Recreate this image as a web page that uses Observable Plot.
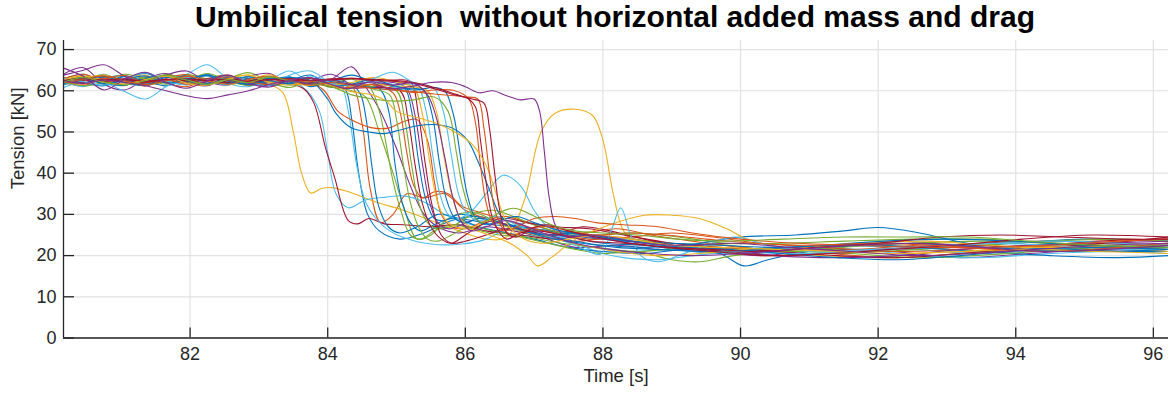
<!DOCTYPE html>
<html>
<head>
<meta charset="utf-8">
<script src="https://cdn.jsdelivr.net/npm/d3@7"></script>
<script src="https://cdn.jsdelivr.net/npm/@observablehq/plot@0.6"></script>
<style>
  html, body { margin: 0; padding: 0; background: #fff; }
  #title { width: 1110px; padding-left: 60px; height: 40px; line-height: 40px; text-align: center;
           font: bold 30px "Liberation Sans", Arial, Helvetica, sans-serif; color: #000; white-space: pre; }
</style>
</head>
<body>
<div id="title">Umbilical tension  without horizontal added mass and drag</div>
<div id="chart"></div>
<script>
// ---- axis / tick data ----
const xDomain = [80.16, 96.22];
const yDomain = [0, 72.2];
const xTicks = [82, 84, 86, 88, 90, 92, 94, 96];
const yTicks = [0, 10, 20, 30, 40, 50, 60, 70];
const xLabel = "Time [s]";
const yLabel = "Tension [kN]";

// MATLAB default colour order
const C = {blue: "#0072BD", orange: "#D95319", yellow: "#EDB120", purple: "#7E2F8E",
           green: "#77AC30", cyan: "#4DBEEE", red: "#A2142F"};

// shared knot times for the pre-drop oscillations
const preT = [80.16,80.45,80.75,81.05,81.35,81.65,81.95,82.25,82.55,82.85,83.15,83.45,83.75,84.05,84.35,84.65,84.95,85.25,85.55,85.85];

// ---- series: pre-drop values on preT, then [time, tension] pairs ----
const s01 = {color: C.blue, pre: [62.8,64.0,62.0,63.6,61.6,63.8,62.2,64.0,61.8,63.4,61.4,63.0,61.0,62.2],
  tail: [[84.25,60.5],[84.35,53],[84.45,40],[84.58,30],[84.75,26],[85.05,24],[85.4,25.5],[85.8,28.5],[86.2,29.5],[86.6,27.5],[87,25.5],[87.5,24.5],[88,23],[88.6,22.5],[89.3,21],[90,20.5],[91,21.5],[92,22.5],[93,21.5],[94,21],[95,22],[96.22,22.5]]};
const s02 = {color: C.orange, pre: [62.0,61.2,63.2,61.3,63.4,61.9,61.0,62.9,63.8,61.6,63.2,61.5,63.0,61.2],
  tail: [[84.35,61],[84.5,52],[84.62,36],[84.77,28],[84.95,30],[85.15,35],[85.4,34],[85.7,35],[86.0,31],[86.3,29],[86.7,27],[87.1,25],[87.6,23.5],[88.2,24.5],[88.8,23],[89.5,21.5],[90.3,20],[91.2,20.5],[92.2,19.5],[93.2,20.5],[94.2,21.5],[95.2,22],[96.22,21.5]]};
const s03 = {color: C.yellow, pre: [62.5,63.6,61.5,62.9,63.8,61.8,63.2,61.3,63.4,62.2,61.5],
  tail: [[83.35,59.5],[83.5,50],[83.62,40],[83.75,35.2],[83.9,36.2],[84.05,36.5],[84.3,35.5],[84.7,33],[85.1,31],[85.5,28.5],[85.9,26],[86.3,24],[86.6,24.5],[86.85,33],[87.1,50],[87.3,54.5],[87.6,55.5],[87.85,54],[88.0,48],[88.15,35],[88.3,26],[88.5,23],[88.9,22.5],[89.5,22],[90.2,21],[91.2,20],[92.2,19.5],[93.2,20.5],[94.2,22],[95.2,22.5],[96.22,21.5]]};
const s04 = {color: C.purple, pre: [64.0,65.6,61.5,60.2,62.8,64.2,62.0,61.2,63.4,62.0,61.2,63.2,62.0,62.8,65.8],
  tail: [[84.55,61],[84.75,55.5],[85.0,46],[85.2,37],[85.4,30],[85.6,27],[85.9,25.5],[86.3,27],[86.7,26],[87.1,24.5],[87.6,22],[88.2,22.5],[88.8,21.5],[89.5,21],[90.3,20],[91.2,21.5],[92.2,21],[93.2,19.5],[94.2,20.5],[95.2,21.5],[96.22,21]]};
const s05 = {color: C.green, pre: [61.5,62.6,63.8,62.3,61.4,64.0,62.6,61.6,62.9,64.4,62.3,61.5,63.1,61.0,60.0],
  tail: [[84.55,58.5],[84.75,50],[84.95,40],[85.1,32],[85.3,24],[85.5,25],[85.75,29],[86.1,30.5],[86.5,28],[86.9,26.5],[87.3,26],[87.8,25],[88.4,24],[89,23],[89.8,22.5],[90.6,21],[91.5,22],[92.5,23],[93.5,23.5],[94.5,23],[95.5,22.5],[96.22,23]]};
const s06 = {color: C.cyan, pre: [60.8,62.5,64.0,61.8,61.4,63.4,62.0,63.8,61.8,61.0,63.2,62.5],
  tail: [[83.7,60],[83.88,55],[84.0,45],[84.12,35],[84.3,31.6],[84.55,33.5],[84.85,34.2],[85.1,34.5],[85.4,33],[85.7,30],[86.0,28],[86.4,26],[86.8,25],[87.2,24.5],[87.7,22.5],[88.3,21],[89,21.5],[89.8,20.5],[90.6,21.5],[91.5,22.5],[92.5,21.5],[93.5,20.5],[94.5,21.5],[95.5,22.5],[96.22,22]]};
const s07 = {color: C.red, pre: [62.2,62.8,62.0,62.5,61.8,62.6,63.0,62.4,61.7,62.5,62.0,61.6],
  tail: [[83.65,60.5],[83.8,57],[83.97,46],[84.1,39],[84.3,28.5],[84.44,27.7],[84.6,29],[84.82,27.7],[85.1,27.5],[85.5,27],[85.9,27.5],[86.3,26],[86.8,25],[87.3,24],[87.8,25],[88.4,23.5],[89,22.5],[89.8,21],[90.6,20],[91.5,21],[92.5,22],[93.5,23],[94.5,23.5],[95.5,23],[96.22,22.5]]};
const s08 = {color: C.cyan, pre: [62.5,61.0,63.0,63.8,61.8,62.6,64.0,66.3,63.0,61.3,62.6,64.8,62.0,61.8],
  tail: [[84.2,61],[84.3,55],[84.42,42],[84.55,33],[84.7,29],[84.9,26],[85.1,24.4],[85.5,22.8],[85.95,22.8],[86.3,24],[86.6,26.5],[86.9,28],[87.2,26],[87.6,23],[88,20.5],[88.3,19.5],[88.8,19],[89.3,20],[90,21],[90.8,22],[91.7,21.5],[92.6,20],[93.5,19.5],[94.5,20.5],[95.5,21],[96.22,20.5]]};
const s09 = {color: C.blue, pre: [63.2,62.0,61.2,63.0,64.2,62.3,61.5,62.8,63.6,61.4,62.4,63.4,61.2,62.5,61.5],
  tail: [[84.48,59],[84.56,53],[84.64,42],[84.74,32],[84.88,27],[85.05,25.5],[85.3,27],[85.6,30],[85.9,29],[86.2,27],[86.6,25.5],[87,24],[87.5,22],[88,21],[88.6,20.5],[89.2,21.5],[89.7,20.5],[90.05,17.5],[90.4,19],[91,21],[92,21.5],[93,22],[94,23],[95,24],[96.22,23.5]]};
const s10 = {color: C.green, pre: [62.0,63.6,62.4,61.5,63.2,62.0,63.9,62.8,61.6,62.4,63.4,61.4,62.4,60.8,61.6],
  tail: [[84.6,61],[84.75,55],[84.85,47],[84.95,38],[85.08,30],[85.2,25],[85.35,24],[85.55,26],[85.8,27.5],[86.1,26.5],[86.5,25],[86.9,24.5],[87.4,23],[87.9,22],[88.5,21],[89.2,22],[90,23],[90.8,22.5],[91.7,21],[92.6,21.5],[93.5,22.5],[94.5,23.5],[95.5,24],[96.22,23.5]]};
const s11 = {color: C.orange, pre: [63.2,61.8,63.5,62.4,61.2,63.0,63.9,61.7,63.0,61.3,63.1,62.3,62.0],
  tail: [[83.95,60],[84.15,55],[84.4,52.5],[84.65,51],[84.9,51],[85.1,52.5],[85.3,53],[85.45,48],[85.55,38],[85.65,30],[85.8,27],[86.0,26.5],[86.3,28.5],[86.6,29.5],[86.9,28],[87.3,26],[87.7,25.5],[88.2,26.5],[88.7,25],[89.3,23.5],[90,22],[90.8,21],[91.7,21.5],[92.6,22.5],[93.5,22],[94.5,21],[95.5,21.5],[96.22,22.5]]};
const s12 = {color: C.blue, pre: [62.4,63.3,61.8,61.3,63.0,63.6,62.0,61.5,63.3,62.5,61.3,62.4,63.8,61.0,60.8,61.5],
  tail: [[84.8,59.5],[84.9,54],[84.98,42],[85.08,33],[85.2,28],[85.35,26],[85.55,27.5],[85.8,29],[86.1,28.5],[86.4,27.5],[86.8,27],[87.2,26],[87.7,24.5],[88.3,23.5],[89,22.5],[89.8,21.5],[90.6,22],[91.5,22.5],[92.5,22],[93.5,21],[94.5,20],[95.5,19.5],[96.22,20]]};
const s13 = {color: C.green, pre: [61.8,62.6,63.8,62.1,61.4,62.2,63.4,62.6,61.6,63.5,62.0,60.8,62.3,61.8,62.8,60.5],
  tail: [[84.9,59],[85.0,53],[85.1,42],[85.2,33],[85.32,27],[85.45,24],[85.6,23.5],[85.8,25],[86.05,27],[86.4,26],[86.8,24.5],[87.2,23],[87.6,21.5],[88,20.5],[88.5,21],[89,19],[89.4,18.5],[89.9,20],[90.7,21],[91.6,20.5],[92.5,19.5],[93.4,20],[94.3,21],[95.3,22],[96.22,22.5]]};
const s14 = {color: C.orange, pre: [62.9,64.0,62.3,61.6,62.4,63.5,61.9,62.8,63.7,62.2,61.5,63.2,61.3,62.6,60.8,61.5],
  tail: [[84.95,59.5],[85.05,55],[85.15,45],[85.25,37],[85.38,34],[85.55,35.5],[85.75,35],[85.95,32],[86.2,30.5],[86.5,29],[86.9,27],[87.3,25.5],[87.8,24],[88.4,24.5],[89,25.5],[89.6,24.5],[90.3,23],[91.2,22],[92.2,21],[93.2,21.5],[94.2,22.5],[95.2,23],[96.22,22.5]]};
const s15 = {color: C.green, pre: [62.3,61.2,62.1,64.0,62.8,61.6,62.5,64.2,62.4,61.4,63.3,62.2,62.0,61.4,61.9,61.0],
  tail: [[85.0,60],[85.12,53],[85.22,42],[85.32,33],[85.45,28],[85.6,26.5],[85.85,27.5],[86.1,30],[86.4,31],[86.7,29.5],[87.0,27.5],[87.4,25.5],[87.9,25],[88.5,25.5],[89.1,24.5],[89.8,23],[90.6,23],[91.5,23.5],[92.5,24],[93.5,24],[94.5,23],[95.5,22],[96.22,22]]};
const s16 = {color: C.red, pre: [62.6,62.0,62.9,62.3,62.7,62.0,62.5,61.8,62.4,62.9,62.2,61.6,62.0,61.0,60.6,60.8],
  tail: [[85.05,60],[85.17,53],[85.27,42],[85.37,33],[85.5,27],[85.65,24],[85.8,23],[86.0,25],[86.3,28],[86.6,29],[86.9,28],[87.3,27],[87.8,26.5],[88.3,25],[89,23],[89.7,22],[90.5,21],[91.4,20],[92.3,19.5],[93.2,20.5],[94.2,22],[95.2,23.5],[96.22,24]]};
const s17 = {color: C.blue, pre: [61.4,63.0,62.0,63.4,62.4,61.2,62.8,63.6,61.8,62.9,61.6,62.6,61.4,62.4,63.8,62.2,61.0],
  tail: [[85.12,60.6],[85.22,55],[85.32,43],[85.42,34],[85.55,29],[85.7,28.5],[85.9,30],[86.15,29.5],[86.45,28],[86.8,27],[87.2,25],[87.6,23.5],[88,22.5],[88.6,22],[89.2,22.5],[90,24.5],[90.8,25],[91.5,26],[92,26.8],[92.6,25.5],[93.3,23],[94,22],[94.8,21.5],[95.6,21],[96.22,21]]};
const s18 = {color: C.purple, pre: [63.8,65.0,66.3,63.5,61.2,63.8,64.8,62.2,61.4,63.5,64.2,61.8,62.5,64.0,61.5,60.8,62.0],
  tail: [[85.15,60.5],[85.27,54],[85.37,43],[85.48,33],[85.6,28],[85.75,26.5],[85.95,27.5],[86.2,29],[86.5,28],[86.9,26],[87.3,25],[87.8,24.5],[88.4,23],[89,22],[89.7,21.5],[90.5,20],[91.4,19.5],[92.3,20],[93.2,21.5],[94.2,22.5],[95.2,23],[96.22,23.5]]};
const s19 = {color: C.red, pre: [62.0,62.4,62.8,62.2,61.9,62.6,62.9,62.3,62.0,62.5,62.1,62.6,62.4,62.9,63.0,62.8,62.6],
  tail: [[85.2,62.2],[85.32,54],[85.42,42],[85.52,32],[85.65,25],[85.8,23],[86.0,23.5],[86.3,25],[86.6,26.5],[86.95,26],[87.3,25],[87.7,27],[88.1,26],[88.6,24],[89.2,22],[89.9,21],[90.7,21.5],[91.6,22.5],[92.5,23],[93.4,22.5],[94.3,22],[95.3,23],[96.22,24.5]]};
const s20 = {color: C.yellow, pre: [62.0,63.0,63.8,62.2,61.4,62.2,63.5,62.5,61.5,62.6,63.9,62.1,61.3,62.4,61.0,61.6,61.2],
  tail: [[85.25,60.5],[85.38,54],[85.48,43],[85.58,34],[85.7,29],[85.85,27],[86.05,26.5],[86.35,25],[86.65,23],[86.9,20],[87.05,17.5],[87.25,19.5],[87.6,24],[88.1,27.5],[88.6,29.8],[89.0,29.8],[89.4,29],[89.8,26.5],[90.1,24],[90.6,22],[91.4,21],[92.3,20.5],[93.2,21],[94.2,22],[95.2,22],[96.22,21]]};
const s21 = {color: C.cyan, pre: [61.5,62.8,62.0,59.8,58.0,61.0,63.2,62.6,61.4,63.4,62.4,61.5,63.6,62.0,61.2,62.5,61.5],
  tail: [[85.3,61],[85.43,55],[85.53,44],[85.63,35],[85.75,30],[85.9,29],[86.1,31],[86.3,35],[86.55,39.5],[86.8,37],[87.0,31],[87.2,27],[87.5,25.5],[87.9,25],[88.3,24],[88.8,22.5],[89.3,22],[90,21],[90.8,20.5],[91.7,21],[92.6,22],[93.5,23],[94.5,22.5],[95.5,21.5],[96.22,21.5]]};
const s22 = {color: C.blue, pre: [62.7,61.8,63.4,62.6,61.5,62.4,63.6,61.8,62.6,61.6,63.0,62.1,61.6,62.2,61.4,60.8,60.2,60.6],
  tail: [[85.4,60],[85.52,54],[85.62,43],[85.72,34],[85.85,29],[86.0,28],[86.2,29],[86.45,28],[86.8,26],[87.2,25],[87.6,25.5],[88,24.5],[88.6,23],[89.2,22],[89.9,21.5],[90.6,20.5],[91.4,19.5],[92.3,19],[93.2,20],[94.2,21.5],[95.2,22],[96.22,21.5]]};
const s23 = {color: C.yellow, pre: [62.4,63.5,62.6,61.6,62.5,63.6,62.3,61.5,62.9,63.8,62.1,62.6,62.3,61.5,62.0,63.2,62.4,61.0],
  tail: [[85.45,60],[85.58,55],[85.69,44],[85.8,35],[85.93,29],[86.1,27],[86.35,28.5],[86.6,27],[86.9,25.5],[87.3,24],[87.7,22.5],[88.2,21],[88.8,20],[89.4,20.5],[90.1,21.5],[90.9,22],[91.8,23],[92.7,23.5],[93.6,22.5],[94.5,22],[95.5,22.5],[96.22,23]]};
const s24 = {color: C.cyan, pre: [63.0,62.2,61.4,62.8,64.4,62.4,61.5,62.6,63.6,62.2,61.3,63.8,64.8,61.8,60.6,62.8,64.5,62.0],
  tail: [[85.55,60.5],[85.68,55],[85.8,44],[85.9,35],[86.03,30],[86.2,28.5],[86.45,29.5],[86.8,27],[87.2,25],[87.6,22.5],[87.97,20.4],[88.12,26],[88.26,31.6],[88.4,25],[88.55,20],[88.8,18.5],[89.1,20],[89.5,22.5],[89.9,24.5],[90.3,23],[91,21],[91.9,21.5],[92.8,22],[93.7,23],[94.6,23.5],[95.5,23],[96.22,22.5]]};
const s25 = {color: C.blue, pre: [61.8,62.8,63.4,62.0,61.4,63.2,62.3,61.5,62.6,63.4,62.5,61.7,62.4,61.2,61.6,62.8,61.3,60.2,60.8],
  tail: [[85.7,60],[85.83,54],[85.94,43],[86.04,34],[86.15,29],[86.3,27.5],[86.5,28.5],[86.75,29.5],[87.0,28],[87.4,26],[87.9,24.5],[88.4,23.5],[89,23],[89.7,22.5],[90.5,22],[91.3,22.5],[92.2,23],[93.1,22.5],[94.1,21.5],[95.1,21],[96.22,21.5]]};
const s26 = {color: C.blue, pre: [62.2,63.2,61.7,62.6,63.6,61.9,62.7,63.8,62.3,61.6,62.6,63.2,62.5],
  tail: [[84.0,58],[84.12,54.5],[84.34,51],[84.6,50],[84.82,49.6],[85.05,50.5],[85.3,51.5],[85.55,51.8],[85.8,51],[86.03,48],[86.18,43],[86.35,36],[86.5,30],[86.7,27],[86.95,25.5],[87.3,24],[87.7,23],[88.2,22],[88.8,21.5],[89.5,21],[90.3,21.5],[91.2,22.5],[92.1,23.5],[93,24],[94,23.5],[95,22.5],[96.22,22]]};
const s27 = {color: C.orange, pre: [62.3,61.6,62.9,63.7,62.0,62.8,61.6,62.4,63.4,62.2,61.6,62.8,61.8,61.2,60.8,61.5,60.4,59.6,60.2],
  tail: [[85.85,60],[86.05,58],[86.15,52],[86.22,42],[86.3,33],[86.4,28],[86.55,26],[86.75,27],[87,29],[87.3,29.5],[87.6,29],[87.9,28],[88.3,27.5],[88.8,27],[89.3,25.5],[90,24],[90.8,23],[91.7,22.5],[92.6,22],[93.5,22],[94.5,22.5],[95.5,23.5],[96.22,24]]};
const s28 = {color: C.red, pre: [62.4,62.9,62.3,62.7,62.1,62.8,62.4,62.9,62.5,62.2,62.7,62.4,62.9,62.6,63.0,62.7,62.5,62.0,60.8,59.2],
  tail: [[86.05,58],[86.15,56],[86.22,48],[86.3,38],[86.38,30],[86.48,26],[86.6,24],[86.8,25.5],[87.05,26],[87.4,25],[87.8,23.5],[88.3,23],[88.9,22],[89.6,21],[90.4,20],[91.3,20.5],[92.2,21.5],[93.1,22.5],[94.1,24],[95.1,25],[96.22,24.5]]};
const s29 = {color: C.yellow, pre: [62.6,63.6,62.0,61.6,62.7,63.6,61.8,61.4,62.8,63.8,62.0,61.4,62.3,61.2,59.8,59.0],
  tail: [[84.85,57.5],[85.0,55],[85.3,53.5],[85.6,52],[85.9,49.5],[86.1,47],[86.3,42],[86.45,35],[86.6,28],[86.8,24.5],[87.1,23],[87.5,24],[87.9,25],[88.4,24],[89,22.5],[89.7,22],[90.5,21.5],[91.4,21],[92.3,20.5],[93.2,21],[94.2,21.5],[95.2,21],[96.22,20.5]]};
const s30 = {color: C.orange, pre: [61.9,62.8,63.6,62.4,61.5,62.4,63.5,62.5,61.6,62.7,63.6,62.4,61.4,62.0,61.3,60.6,60.2,59.8,59.2,58.8],
  tail: [[86.0,58.5],[86.18,58],[86.27,51],[86.35,40],[86.43,31],[86.55,26.5],[86.7,25],[86.9,26.5],[87.2,27],[87.5,26],[87.9,25],[88.4,25.5],[88.9,25],[89.5,24],[90.2,23],[91,22.5],[91.9,23],[92.8,22.5],[93.7,21.5],[94.6,21],[95.5,22],[96.22,23]]};
const s31 = {color: C.red, pre: [62.5,63.0,62.6,62.9,62.3,62.7,62.9,62.5,62.8,62.3,62.7,62.9,62.4,62.7,62.9,62.5,62.3,61.8,60.5,59.0],
  tail: [[86.1,58],[86.27,57],[86.35,51],[86.42,41],[86.5,31],[86.6,25.5],[86.75,24.5],[86.95,26.5],[87.2,27.5],[87.5,26],[87.9,24.5],[88.4,23],[89,22],[89.6,21.5],[90.3,21],[91.1,22],[92,23],[92.9,24.5],[93.8,25],[94.7,24.5],[95.6,24],[96.22,24]]};
const s32 = {color: C.purple, pre: [65.5,63.5,60.2,62.8,64.5,62.0,60.6,62.4,63.8,61.8,60.9,62.6,63.2],
  tail: [[84.05,61.5],[84.3,60.5],[84.6,62],[84.9,60.5],[85.2,61],[85.5,62],[85.8,62],[86.0,61],[86.2,59.5],[86.4,60],[86.6,58.8],[86.8,57.8],[87.0,58],[87.08,55],[87.15,45],[87.22,34],[87.32,27],[87.5,24.5],[87.8,25],[88.1,24.5],[88.6,23],[89.2,22.5],[89.9,23],[90.7,22],[91.6,21],[92.5,20],[93.4,20.5],[94.3,21.5],[95.3,22.5],[96.22,23]]};
const s33 = {color: C.green, pre: [62.1,63.2,62.1,61.4,62.5,63.8,62.6,61.6,62.7,62.0,63.4,62.4,61.8,61.0,59.0,58.0,57.5,57.8,58.5],
  tail: [[85.75,55],[85.87,45],[85.97,36],[86.1,30],[86.25,28],[86.45,30],[86.7,31.5],[86.95,30],[87.25,27.5],[87.6,26],[88,25.5],[88.5,25],[89.1,24],[89.8,23.5],[90.6,24],[91.5,24.5],[92.4,24.5],[93.3,24.5],[94.2,23.5],[95.2,22.5],[96.22,22]]};
const s34 = {color: C.purple, pre: [62.5,61.8,62.6,62.0,61.2,60.0,58.8,58.1,59.0,60.0,61.5,62.4,61.8,62.6,61.5,62.2,61.4,61.8],
  tail: [[85.45,59],[85.57,54],[85.7,44],[85.82,34],[85.95,28],[86.1,26],[86.3,27],[86.6,28.5],[86.9,27],[87.2,25],[87.6,23],[88.1,21.5],[88.7,20.5],[89.3,20],[90,20.5],[90.8,21.5],[91.7,22.5],[92.6,23],[93.5,22],[94.4,21],[95.3,21.5],[96.22,22.5]]};

const series = [s01,s02,s03,s04,s05,s06,s07,s08,s09,s10,s11,s12,s13,s14,s15,s16,s17,s18,s19,s20,
                s21,s22,s23,s24,s25,s26,s27,s28,s29,s30,s31,s32,s33,s34];

// ---- build rows ----
function rowsOf(s, i) {
  const rows = s.pre.map((v, k) => ({t: preT[k], v, id: i}));
  for (const [t, v] of s.tail) rows.push({t, v, id: i});
  return rows;
}

const W = 1170, H = 355, mL = 63, mR = 2, mT = 0, mB = 57.5;
const pxPerX = (W - mL - mR) / (xDomain[1] - xDomain[0]);
const pxPerY = (H - mT - mB) / (yDomain[1] - yDomain[0]);
const axisColor = "#262626";
const gridColor = "#e2e2e2";

const lineMarks = series.map((s, i) =>
  Plot.line(rowsOf(s, i), {x: "t", y: "v", stroke: s.color, strokeWidth: 1.1, curve: "catmull-rom", clip: true}));

const chart = Plot.plot({
  width: W, height: H,
  marginLeft: mL, marginRight: mR, marginTop: mT, marginBottom: mB,
  x: {domain: xDomain, label: null},
  y: {domain: yDomain, label: null},
  style: {fontFamily: "'Liberation Sans', Arial, Helvetica, sans-serif", fontSize: "18px", color: axisColor, background: "#fff", overflow: "visible"},
  marks: [
    Plot.gridX(xTicks, {stroke: gridColor, strokeOpacity: 1, strokeWidth: 1.2}),
    Plot.gridY(yTicks, {stroke: gridColor, strokeOpacity: 1, strokeWidth: 1.2}),
    ...lineMarks,
    Plot.ruleX([xDomain[0]], {stroke: axisColor, strokeWidth: 1.3}),
    Plot.ruleY([yDomain[0]], {stroke: axisColor, strokeWidth: 1.3}),
    Plot.ruleY(yTicks, {x1: xDomain[0], x2: xDomain[0] + 11 / pxPerX, stroke: axisColor, strokeWidth: 1.3}),
    Plot.ruleX(xTicks, {y1: yDomain[0], y2: yDomain[0] + 10 / pxPerY, stroke: axisColor, strokeWidth: 1.3}),
    Plot.axisX({ticks: xTicks, tickSize: 0, tickPadding: 9, tickFormat: d => String(d), fill: axisColor, fontSize: 18}),
    Plot.axisY({ticks: yTicks, tickSize: 0, tickPadding: 7, tickFormat: d => String(d), fill: axisColor, fontSize: 18}),
    Plot.text([xLabel], {frameAnchor: "bottom", dy: 44, text: d => d, fontSize: 18.5, fill: axisColor}),
    Plot.text([yLabel], {frameAnchor: "left", dx: -45, rotate: -90, text: d => d, fontSize: 18.5, fill: axisColor})
  ]
});
document.getElementById("chart").appendChild(chart);
</script>
</body>
</html>
